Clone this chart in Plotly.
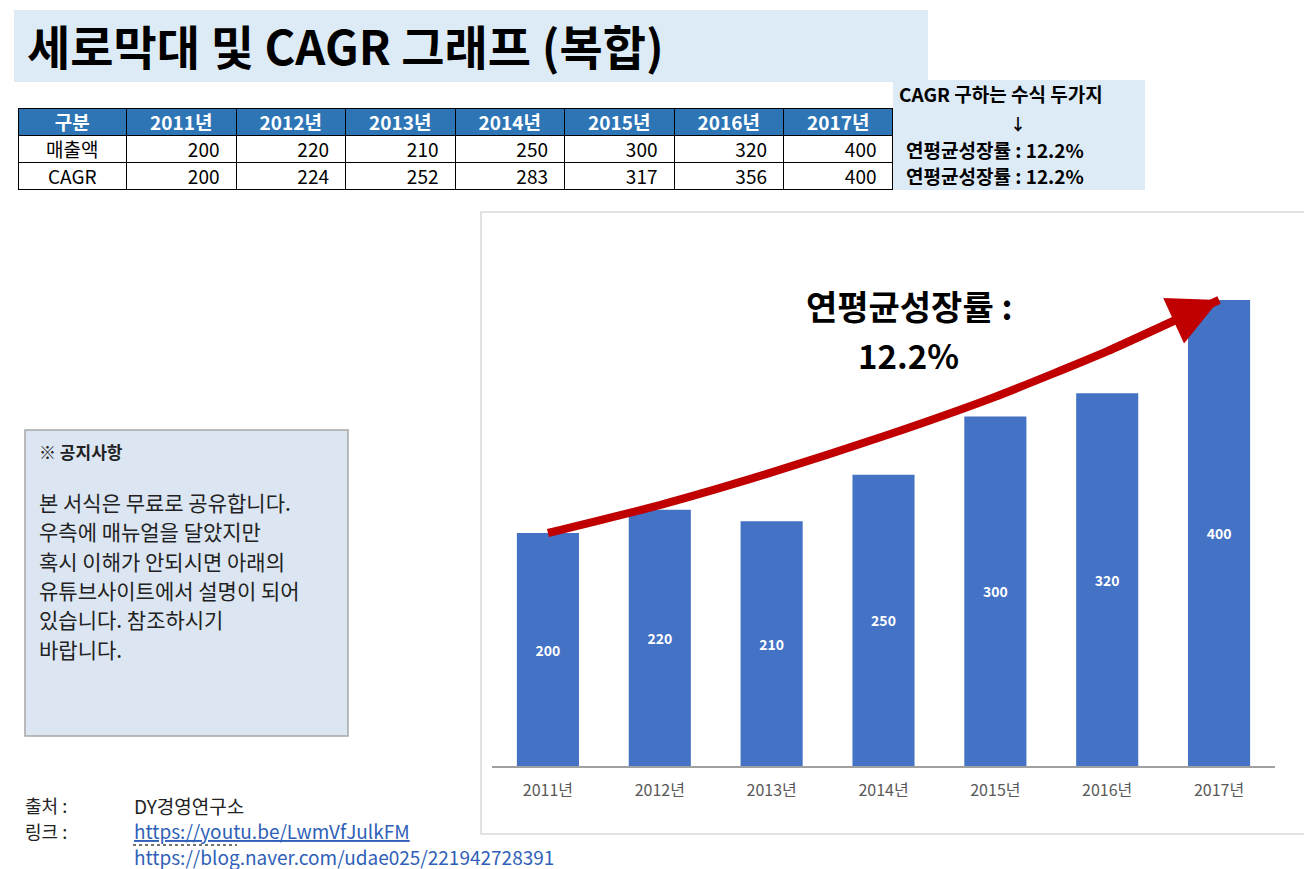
import plotly.graph_objects as go

# ---------------- data ----------------
years = ["2011년", "2012년", "2013년", "2014년", "2015년", "2016년", "2017년"]
sales = [200, 220, 210, 250, 300, 320, 400]
cagr = [200, 224, 252, 283, 317, 356, 400]
row_labels = ["매출액", "CAGR"]
header_first = "구분"
cagr_rate = "12.2%"

title_text = "세로막대 및 CAGR 그래프 (복합)"
side_lines = ["CAGR 구하는 수식 두가지", "↓", "연평균성장률 : 12.2%", "연평균성장률 : 12.2%"]
notice_title = "※ 공지사항"
notice_lines = [
    "본 서식은 무료로 공유합니다.",
    "우측에 매뉴얼을 달았지만",
    "혹시 이해가 안되시면 아래의",
    "유튜브사이트에서 설명이 되어",
    "있습니다. 참조하시기",
    "바랍니다.",
]
source_label, source_value = "출처 :", "DY경영연구소"
link_label = "링크 :"
links = ["https://youtu.be/LwmVfJulkFM", "https://blog.naver.com/udae025/221942728391"]

# ---------------- layout helpers ----------------
W, H = 1304, 869
FONT = "Noto Sans CJK KR"


def px(x):
    return x / W


def py(y):
    return 1 - y / H


BAR_BLUE = "#4472C4"
RED = "#C00000"
LIGHT_BLUE = "#DDEBF7"

fig = go.Figure()

# bars
fig.add_trace(go.Bar(
    x=years, y=sales,
    marker=dict(color=BAR_BLUE, line=dict(width=0)),
    text=[str(v) for v in sales],
    textposition="inside",
    insidetextanchor="middle",
    textangle=0,
    textfont=dict(family=FONT, size=14, color="white", weight="bold"),
    hoverinfo="skip",
    showlegend=False,
    xaxis="x", yaxis="y",
))

# CAGR curve
fig.add_trace(go.Scatter(
    x=years, y=cagr,
    mode="lines",
    line=dict(color=RED, width=8, shape="spline", smoothing=0.6),
    hoverinfo="skip",
    showlegend=False,
    xaxis="x", yaxis="y",
))

# table
ncol = len(years)
fig.add_trace(go.Table(
    domain=dict(x=[px(18), px(893)], y=[py(192), py(108)]),
    columnwidth=[109] + [110] * ncol,
    header=dict(
        values=[header_first] + years,
        fill_color="#2E75B6",
        line=dict(color="black", width=1),
        font=dict(family=FONT, size=19, color="white", weight="bold"),
        align="center",
        height=27,
    ),
    cells=dict(
        values=[row_labels] + [[s, c] for s, c in zip(sales, cagr)],
        suffix=[""] + ["\u00a0\u00a0"] * ncol,
        fill_color="white",
        line=dict(color="black", width=1),
        font=dict(family=FONT, size=19, color="black"),
        align=["center"] + ["right"] * ncol,
        height=27,
    ),
))

shapes = []
annotations = []

# arrow head at the end of CAGR curve
n = len(years)
annotations.append(dict(
    x=n - 1, y=cagr[-1], ax=n - 2, ay=cagr[-2],
    xref="x", yref="y", axref="x", ayref="y",
    showarrow=True, arrowhead=2, arrowsize=1.25, arrowwidth=8,
    arrowcolor=RED, text="", standoff=0,
))

# title band
shapes.append(dict(type="rect", xref="paper", yref="paper",
                   x0=px(14), x1=px(928), y0=py(82), y1=py(10),
                   fillcolor=LIGHT_BLUE, line=dict(width=0), layer="below"))
annotations.append(dict(xref="paper", yref="paper", x=px(25), y=py(45),
                        xanchor="left", yanchor="middle", showarrow=False,
                        text="<b>" + title_text + "</b>",
                        font=dict(family=FONT, size=47, color="black")))

# side box
shapes.append(dict(type="rect", xref="paper", yref="paper",
                   x0=px(893), x1=px(1145), y0=py(190), y1=py(80),
                   fillcolor=LIGHT_BLUE, line=dict(width=0), layer="below"))
side_pos = [(897, 94, "left"), (1018, 123, "center"), (904, 149, "left"), (904, 176, "left")]
for (sx, sy, anc), t in zip(side_pos, side_lines):
    annotations.append(dict(xref="paper", yref="paper", x=px(sx), y=py(sy),
                            xanchor=anc, yanchor="middle", showarrow=False,
                            text="<b>" + t + "</b>",
                            font=dict(family=FONT, size=19 if anc == "left" else 16,
                                      color="black")))

# notice box
shapes.append(dict(type="rect", xref="paper", yref="paper",
                   x0=px(25), x1=px(348), y0=py(736), y1=py(430),
                   fillcolor="#DCE6F2", line=dict(color="#A6A6A6", width=1.5), layer="below"))
annotations.append(dict(xref="paper", yref="paper", x=px(37), y=py(451),
                        xanchor="left", yanchor="middle", showarrow=False,
                        text="<b>" + notice_title + "</b>",
                        font=dict(family=FONT, size=17, color="#222222")))
for i, t in enumerate(notice_lines):
    annotations.append(dict(xref="paper", yref="paper", x=px(37), y=py(502 + i * 29.3),
                            xanchor="left", yanchor="middle", showarrow=False,
                            text=t, font=dict(family=FONT, size=21, color="#222222")))

# chart frame
shapes.append(dict(type="rect", xref="paper", yref="paper",
                   x0=px(481), x1=px(1320), y0=py(834), y1=py(212),
                   fillcolor="white", line=dict(color="#D9D9D9", width=1.5), layer="below"))

# chart annotation
annotations.append(dict(xref="paper", yref="paper", x=px(909), y=py(305),
                        xanchor="center", yanchor="middle", showarrow=False,
                        text="<b>연평균성장률 :</b>",
                        font=dict(family=FONT, size=34, color="black")))
annotations.append(dict(xref="paper", yref="paper", x=px(908), y=py(355),
                        xanchor="center", yanchor="middle", showarrow=False,
                        text="<b>" + cagr_rate + "</b>",
                        font=dict(family=FONT, size=33, color="black")))

# footer
LINK_BLUE = "#2F5FB8"
FS = 18
annotations.append(dict(xref="paper", yref="paper", x=px(23), y=py(805),
                        xanchor="left", yanchor="middle", showarrow=False,
                        text=source_label, font=dict(family=FONT, size=FS, color="#222222")))
annotations.append(dict(xref="paper", yref="paper", x=px(132), y=py(805),
                        xanchor="left", yanchor="middle", showarrow=False,
                        text=source_value, font=dict(family=FONT, size=FS + 1, color="#222222")))
annotations.append(dict(xref="paper", yref="paper", x=px(23), y=py(831),
                        xanchor="left", yanchor="middle", showarrow=False,
                        text=link_label, font=dict(family=FONT, size=FS, color="#222222")))
annotations.append(dict(xref="paper", yref="paper", x=px(132), y=py(830),
                        xanchor="left", yanchor="middle", showarrow=False,
                        text="<u>" + links[0] + "</u>",
                        font=dict(family=FONT, size=FS + 1, color=LINK_BLUE)))
annotations.append(dict(xref="paper", yref="paper", x=px(132), y=py(856),
                        xanchor="left", yanchor="middle", showarrow=False,
                        text=links[1],
                        font=dict(family=FONT, size=FS + 1, color=LINK_BLUE)))
shapes.append(dict(type="line", xref="paper", yref="paper",
                   x0=px(133), x1=px(237), y0=py(845), y1=py(845),
                   line=dict(color="#444444", width=1.5, dash="dot")))

top_px = 766 - 440 * 1.165
fig.update_layout(
    width=W, height=H,
    margin=dict(l=0, r=0, t=0, b=0),
    paper_bgcolor="white",
    plot_bgcolor="rgba(0,0,0,0)",
    bargap=0.445,
    hovermode=False,
    showlegend=False,
    xaxis=dict(
        domain=[px(492), px(1275)],
        type="category",
        showline=True, linecolor="#A0A0A0", linewidth=1.5,
        showgrid=False, zeroline=False, ticks="",
        ticklabelstandoff=9,
        tickfont=dict(family=FONT, size=16, color="#595959"),
        fixedrange=True,
    ),
    yaxis=dict(
        domain=[py(766), py(top_px)],
        range=[0, 440],
        visible=False,
        fixedrange=True,
    ),
)
fig.layout.shapes = shapes
fig.layout.annotations = annotations

fig.write_html("out.html")
